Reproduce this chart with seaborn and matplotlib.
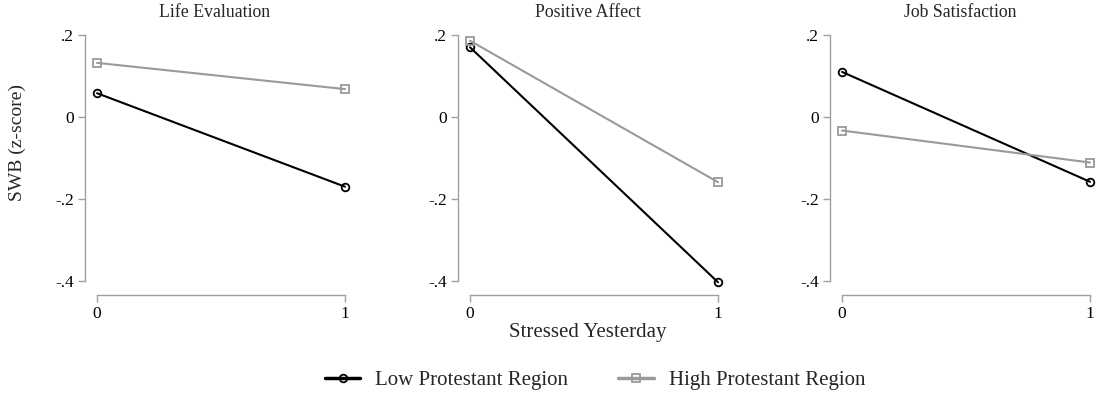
import matplotlib
matplotlib.use("Agg")
import matplotlib.pyplot as plt
from matplotlib.lines import Line2D
import seaborn as sns
import pandas as pd

# Outcomes and group means (z-scores) by whether the respondent was stressed yesterday
panels = ["Life Evaluation", "Positive Affect", "Job Satisfaction"]
stressed = [0, 1]
groups = ["Low Protestant Region", "High Protestant Region"]
low_protestant = {
    "Life Evaluation": [0.058, -0.170],
    "Positive Affect": [0.170, -0.403],
    "Job Satisfaction": [0.110, -0.158],
}
high_protestant = {
    "Life Evaluation": [0.132, 0.068],
    "Positive Affect": [0.186, -0.159],
    "Job Satisfaction": [-0.033, -0.111],
}
y_ticks = [0.2, 0, -0.2, -0.4]
y_tick_labels = [".2", "0", "-.2", "-.4"]

rows = []
for p in panels:
    for g, src in zip(groups, [low_protestant, high_protestant]):
        for x, v in zip(stressed, src[p]):
            rows.append({"panel": p, "group": g, "stressed": x, "swb": v})
df = pd.DataFrame(rows)

sns.set_style("white")
plt.rcParams["font.family"] = ["Liberation Serif", "DejaVu Serif"]

palette = {"Low Protestant Region": "#000000", "High Protestant Region": "#9a9a9a"}
markers = {"Low Protestant Region": "o", "High Protestant Region": "s"}
spine_col = "#a0a0a0"

W, H = 1096, 394
fig = plt.figure(figsize=(W / 100, H / 100), dpi=100)

lefts = [85, 458, 830]
ax_w = 260
top_px, bot_px = 35, 295

for i, p in enumerate(panels):
    ax = fig.add_axes([lefts[i] / W, (H - bot_px) / H, ax_w / W, (bot_px - top_px) / H])
    sub = df[df["panel"] == p]
    for g in groups:
        s = sub[sub["group"] == g]
        sns.lineplot(data=s, x="stressed", y="swb", ax=ax, color=palette[g],
                     marker=markers[g], markersize=5.5, markerfacecolor="none",
                     markeredgecolor=palette[g], markeredgewidth=1.3,
                     linewidth=1.5, clip_on=False, legend=False)
    ax.set_xlim(-12 / 247, 1.0)
    ax.set_ylim(-0.4 - 14 * 0.2 / 82, 0.2)
    ax.set_xticks(stressed)
    ax.set_xticklabels([str(v) for v in stressed])
    ax.set_yticks(y_ticks)
    ax.set_yticklabels(y_tick_labels)
    for side in ["top", "right"]:
        ax.spines[side].set_visible(False)
    for side in ["left", "bottom"]:
        ax.spines[side].set_color(spine_col)
        ax.spines[side].set_linewidth(1.0)
    ax.spines["left"].set_bounds(-0.4, 0.2)
    ax.spines["bottom"].set_bounds(0, 1)
    ax.tick_params(axis="both", which="major", length=5, width=1.0, color=spine_col,
                   labelsize=12.5, labelcolor="black", pad=3, left=True, bottom=True)
    ax.set_title(p, fontsize=12.8, pad=13)
    ax.set_xlabel("")
    ax.set_ylabel("")
    if i == 0:
        ax.set_ylabel("SWB (z-score)", fontsize=14)
        ax.yaxis.set_label_coords(-0.225, 0.585)
    if i == 1:
        ax.set_xlabel("Stressed Yesterday", fontsize=15, labelpad=1)

handles = [Line2D([], [], color=palette[g], marker=markers[g], markersize=5.5,
                  markerfacecolor="none", markeredgewidth=1.3, linewidth=2.5)
           for g in groups]
fig.legend(handles, groups, loc="center", bbox_to_anchor=(595 / W, 1 - 380 / H),
           ncol=2, frameon=False, fontsize=15, handlelength=1.7,
           columnspacing=2.4, handletextpad=0.72)

fig.savefig("out.png", dpi=100)
